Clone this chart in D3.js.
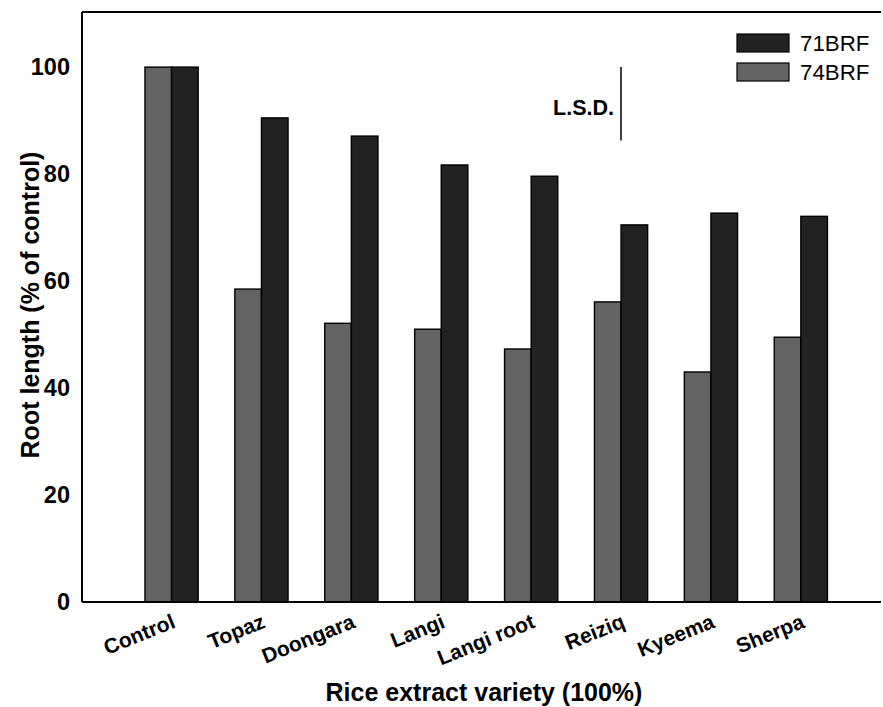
<!DOCTYPE html>
<html>
<head>
<meta charset="utf-8">
<script src="https://cdn.jsdelivr.net/npm/d3@7"></script>
<style>
  body { margin: 0; background: #fff; }
  svg text { font-family: "Liberation Sans", Arial, sans-serif; }
</style>
</head>
<body>
<div id="chart"></div>
<script>
// data
var varieties = ["Control", "Topaz", "Doongara", "Langi", "Langi root", "Reiziq", "Kyeema", "Sherpa"]
var brf74 = [100, 58.5, 52.1, 51.0, 47.3, 56.1, 43.0, 49.5]
var brf71 = [100, 90.5, 87.1, 81.7, 79.6, 70.5, 72.7, 72.1]
var seriesNames = ["71BRF", "74BRF"]
var seriesColors = ["#222222", "#636363"]
var yTicks = [0, 20, 40, 60, 80, 100]
var lsd = [86.3, 100] // L.S.D. bar extent

var width = 883, height = 707
var margin = {top: 12, right: 2, bottom: 105, left: 82}

var svg = d3.select("#chart").append("svg")
    .attr("width", width)
    .attr("height", height)

var y = d3.scaleLinear()
    .domain([0, 110.3])
    .range([height - margin.bottom, margin.top])

var x = d3.scaleBand()
    .domain(varieties)
    .range([126.6, 845.8])
    .padding(0)

var barW = 26.6

// bars, grey (74BRF) left, black (71BRF) right
var g = svg.append("g")
varieties.forEach(function(v, i){
    var cx = x(v) + x.bandwidth() / 2
    g.append("rect")
        .attr("x", cx - barW)
        .attr("y", y(brf74[i]))
        .attr("width", barW)
        .attr("height", y(0) - y(brf74[i]))
        .attr("fill", seriesColors[1])
        .attr("stroke", "#000")
        .attr("stroke-width", 1.4)
    g.append("rect")
        .attr("x", cx)
        .attr("y", y(brf71[i]))
        .attr("width", barW)
        .attr("height", y(0) - y(brf71[i]))
        .attr("fill", seriesColors[0])
        .attr("stroke", "#000")
        .attr("stroke-width", 1.4)
})

// frame lines: left, top, bottom
svg.append("line")
    .attr("x1", margin.left).attr("x2", margin.left)
    .attr("y1", y.range()[1]).attr("y2", y(0))
    .attr("stroke", "#000").attr("stroke-width", 2)
svg.append("line")
    .attr("x1", margin.left).attr("x2", width - margin.right)
    .attr("y1", y.range()[1]).attr("y2", y.range()[1])
    .attr("stroke", "#000").attr("stroke-width", 2)
svg.append("line")
    .attr("x1", margin.left).attr("x2", width - margin.right)
    .attr("y1", y(0)).attr("y2", y(0))
    .attr("stroke", "#000").attr("stroke-width", 2)

// y axis labels (no tick marks)
var yAxis = d3.axisLeft(y).tickValues(yTicks).tickSize(0).tickPadding(12)
var ya = svg.append("g")
    .attr("transform", "translate(" + margin.left + ",0)")
    .call(yAxis)
ya.select(".domain").remove()
ya.selectAll("text")
    .attr("font-family", "Liberation Sans, Arial, sans-serif")
    .attr("font-size", 23.5)
    .attr("font-weight", "bold")
    .attr("fill", "#000")

// x axis labels, rotated
var xAxis = d3.axisBottom(x).tickSize(0).tickPadding(0)
var xa = svg.append("g")
    .attr("transform", "translate(0," + y(0) + ")")
    .call(xAxis)
xa.select(".domain").remove()
xa.selectAll("text")
    .attr("font-family", "Liberation Sans, Arial, sans-serif")
    .attr("font-size", 21)
    .attr("font-weight", "bold")
    .attr("fill", "#000")
    .attr("text-anchor", "end")
    .attr("dy", null)
    .attr("y", 0)
    .attr("transform", "translate(5,25) rotate(-22)")

// axis titles
svg.append("text")
    .attr("x", 484)
    .attr("y", 701)
    .attr("text-anchor", "middle")
    .attr("font-size", 25)
    .attr("font-weight", "bold")
    .text("Rice extract variety (100%)")

svg.append("text")
    .attr("transform", "translate(39,305) rotate(-90)")
    .attr("text-anchor", "middle")
    .attr("font-size", 25)
    .attr("font-weight", "bold")
    .text("Root length (% of control)")

// L.S.D. marker
var lsdX = 621
svg.append("line")
    .attr("x1", lsdX).attr("x2", lsdX)
    .attr("y1", y(lsd[1])).attr("y2", y(lsd[0]))
    .attr("stroke", "#000").attr("stroke-width", 1.5)
svg.append("text")
    .attr("x", lsdX - 7)
    .attr("y", 115)
    .attr("text-anchor", "end")
    .attr("font-size", 21.5)
    .attr("font-weight", "bold")
    .text("L.S.D.")

// legend
var leg = svg.append("g")
seriesNames.forEach(function(s, i){
    leg.append("rect")
        .attr("x", 737).attr("y", 34 + i * 29)
        .attr("width", 52).attr("height", 18)
        .attr("fill", seriesColors[i])
        .attr("stroke", "#000").attr("stroke-width", 1.2)
    leg.append("text")
        .attr("x", 800).attr("y", 51 + i * 29)
        .attr("font-size", 22.3)
        .text(s)
})
</script>
</body>
</html>
